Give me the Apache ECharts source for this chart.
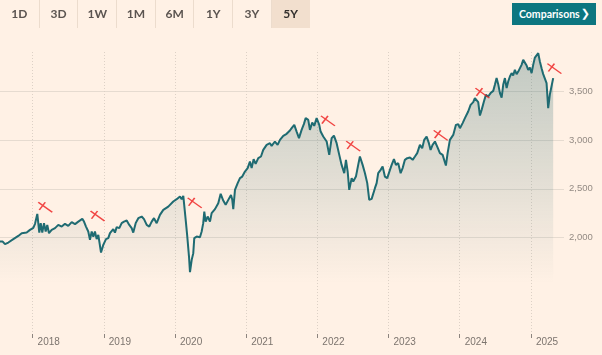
<!DOCTYPE html>
<html>
<head>
<meta charset="utf-8">
<script src="https://cdn.jsdelivr.net/npm/echarts@6/dist/echarts.min.js"></script>
<style>
  html, body { margin: 0; padding: 0; background: #fff1e5; }
  #wrap { position: relative; width: 602px; height: 355px; overflow: hidden; background: #fff1e5; }
  #chart { position: absolute; left: 0; top: 0; width: 602px; height: 355px; }
  .tabs { position: absolute; left: 0; top: 0; height: 28px; display: flex; z-index: 2; }
  .tab { width: 38.7px; height: 28px; line-height: 28px; text-align: center; font-family: Lato, "Open Sans", sans-serif; font-weight: 700; font-size: 12px; color: #5b5450; border-left: 1px solid #ecdccd; box-sizing: border-box; }
  .tab:first-child { border-left: none; }
  .tab.active { background: #f2dfce; color: #33302e; }
  .btn { position: absolute; left: 512px; top: 3px; width: 84px; height: 22px; background: #0d7680; color: #fff; font-family: Lato, "Open Sans", sans-serif; font-weight: 700; font-size: 10.5px; line-height: 22px; box-sizing: border-box; padding-left: 7px; z-index: 2; }
  .btn .chev { position: absolute; right: 6px; top: 0; font-size: 11px; font-family: "DejaVu Sans", sans-serif; font-weight: 700; }
</style>
</head>
<body>
<div id="wrap">
  <div id="chart"></div>
  <div class="tabs" id="tabs"></div>
  <div class="btn">Comparisons<span class="chev">&#10095;</span></div>
</div>
<script>
// ---- data ----
const rangeTabs = ['1D', '3D', '1W', '1M', '6M', '1Y', '3Y', '5Y'];
const activeTab = '5Y';
const yearTicks = [2018, 2019, 2020, 2021, 2022, 2023, 2024, 2025];
const valueTicks = [2000, 2500, 3000, 3500];

// time as decimal year
const dates = [
  2017.542, 2017.580, 2017.612, 2017.659, 2017.729, 2017.799, 2017.847, 2017.917, 2017.963, 2018.010,
  2018.034, 2018.066, 2018.094, 2018.114, 2018.136, 2018.160, 2018.184, 2018.206, 2018.230, 2018.268,
  2018.315, 2018.361, 2018.409, 2018.455, 2018.501, 2018.549, 2018.596, 2018.642, 2018.666, 2018.698,
  2018.722, 2018.750, 2018.782, 2018.806, 2018.830, 2018.853, 2018.876, 2018.900, 2018.923, 2018.961,
  2018.993, 2019.031, 2019.063, 2019.087, 2019.111, 2019.133, 2019.157, 2019.181, 2019.218, 2019.251,
  2019.284, 2019.322, 2019.358, 2019.392, 2019.414, 2019.448, 2019.485, 2019.532, 2019.565, 2019.603,
  2019.639, 2019.673, 2019.705, 2019.743, 2019.789, 2019.836, 2019.906, 2019.976, 2020.024, 2020.046,
  2020.070, 2020.094, 2020.117, 2020.136, 2020.155, 2020.173, 2020.197, 2020.211, 2020.235, 2020.257,
  2020.271, 2020.305, 2020.327, 2020.351, 2020.375, 2020.397, 2020.412, 2020.431, 2020.459, 2020.492,
  2020.515, 2020.562, 2020.608, 2020.642, 2020.678, 2020.712, 2020.749, 2020.787, 2020.805, 2020.819,
  2020.843, 2020.881, 2020.913, 2020.945, 2020.983, 2021.021, 2021.053, 2021.077, 2021.105, 2021.133,
  2021.170, 2021.208, 2021.240, 2021.288, 2021.334, 2021.358, 2021.404, 2021.442, 2021.475, 2021.521,
  2021.569, 2021.615, 2021.639, 2021.676, 2021.709, 2021.742, 2021.779, 2021.812, 2021.836, 2021.872,
  2021.896, 2021.928, 2021.956, 2021.990, 2022.027, 2022.046, 2022.083, 2022.107, 2022.131, 2022.167,
  2022.201, 2022.233, 2022.271, 2022.308, 2022.341, 2022.378, 2022.402, 2022.426, 2022.448, 2022.482,
  2022.504, 2022.542, 2022.574, 2022.598, 2022.636, 2022.669, 2022.701, 2022.729, 2022.763, 2022.785,
  2022.809, 2022.833, 2022.855, 2022.889, 2022.917, 2022.949, 2022.982, 2023.020, 2023.044, 2023.076,
  2023.104, 2023.136, 2023.170, 2023.198, 2023.230, 2023.263, 2023.301, 2023.339, 2023.371, 2023.403,
  2023.441, 2023.473, 2023.501, 2023.535, 2023.567, 2023.591, 2023.619, 2023.652, 2023.684, 2023.722,
  2023.760, 2023.778, 2023.806, 2023.830, 2023.862, 2023.909, 2023.947, 2023.979, 2024.003, 2024.041,
  2024.073, 2024.119, 2024.153, 2024.190, 2024.213, 2024.237, 2024.260, 2024.284, 2024.308, 2024.340,
  2024.368, 2024.400, 2024.434, 2024.471, 2024.494, 2024.518, 2024.541, 2024.565, 2024.589, 2024.611,
  2024.635, 2024.659, 2024.681, 2024.705, 2024.729, 2024.751, 2024.775, 2024.799, 2024.822, 2024.846,
  2024.869, 2024.892, 2024.916, 2024.940, 2024.962, 2024.986, 2025.010, 2025.032, 2025.056, 2025.080,
  2025.103, 2025.126, 2025.150, 2025.173, 2025.197, 2025.220, 2025.243, 2025.267, 2025.291, 2025.313
];
const values = [
  1959, 1959, 1932, 1949, 1984, 2017, 2045, 2051, 2079, 2100,
  2141, 2243, 2051, 2148, 2051, 2148, 2062, 2130, 2045, 2079,
  2097, 2130, 2113, 2141, 2120, 2158, 2138, 2164, 2148, 2192,
  2164, 2113, 2062, 1976, 2062, 2010, 2062, 1984, 2028, 1846,
  1925, 1984, 1994, 2045, 2062, 2086, 2051, 2107, 2097, 2148,
  2164, 2175, 2130, 2097, 2051, 2148, 2199, 2216, 2189, 2130,
  2113, 2164, 2199, 2148, 2233, 2284, 2318, 2370, 2394, 2387,
  2421, 2394, 2428, 2415, 2148, 2010, 1805, 1645, 1771, 1840,
  1994, 2010, 2028, 2004, 2062, 2148, 2267, 2164, 2216, 2164,
  2251, 2292, 2353, 2449, 2380, 2336, 2387, 2438, 2387, 2292,
  2490, 2559, 2610, 2626, 2678, 2713, 2780, 2713, 2805, 2757,
  2815, 2832, 2900, 2952, 2969, 2941, 2986, 2952, 3003, 3044,
  3065, 3099, 3123, 3157, 3088, 3021, 3106, 3167, 3226, 3208,
  3106, 3181, 3147, 3226, 3157, 3088, 3037, 3037, 2986, 2849,
  3021, 3047, 2969, 2849, 2746, 2661, 2798, 2678, 2490, 2610,
  2575, 2626, 2746, 2832, 2746, 2661, 2559, 2387, 2397, 2377,
  2507, 2559, 2661, 2695, 2729, 2626, 2610, 2695, 2746, 2805,
  2746, 2764, 2661, 2713, 2798, 2815, 2821, 2798, 2832, 2867,
  2952, 2918, 3003, 3037, 2969, 2900, 2952, 2986, 2934, 2867,
  2849, 2867, 2739, 2867, 3003, 3054, 3157, 3164, 3123, 3175,
  3226, 3294, 3362, 3390, 3431, 3434, 3390, 3253, 3311, 3396,
  3465, 3448, 3483, 3506, 3568, 3637, 3575, 3483, 3437, 3568,
  3637, 3534, 3602, 3653, 3688, 3663, 3722, 3678, 3704, 3704,
  3773, 3824, 3842, 3766, 3722, 3745, 3688, 3773, 3848, 3835,
  3893, 3807, 3739, 3678, 3670, 3585, 3329, 3472, 3483, 3637
];

// red hand-drawn cross annotations
const markerDates = [2018.178, 2018.912, 2020.277, 2022.149, 2022.504, 2023.733, 2024.319, 2025.330];
const markerValues = [2311, 2221, 2356, 3198, 2938, 3049, 3483, 3734];

// ---- UI tabs ----
const tabsEl = document.getElementById('tabs');
rangeTabs.forEach(t => {
  const d = document.createElement('div');
  d.className = 'tab' + (t === activeTab ? ' active' : '');
  d.textContent = t;
  tabsEl.appendChild(d);
});

// ---- chart ----
const chart = echarts.init(document.getElementById('chart'), null, { renderer: 'canvas' });
const lineData = dates.map((d, i) => [d, values[i]]);
const markerData = markerDates.map((d, i) => [d, markerValues[i]]);

chart.setOption({
  backgroundColor: 'transparent',
  animation: false,
  grid: { left: 0, right: 38, top: 52, bottom: 21, containLabel: false },
  xAxis: {
    type: 'value',
    min: 2017.542,
    max: 2025.465,
    axisLine: { show: false },
    axisTick: { show: true, customValues: yearTicks, length: 4, lineStyle: { color: '#8c847e', width: 1 } },
    axisLabel: {
      customValues: yearTicks,
      formatter: v => String(Math.round(v)),
      align: 'left',
      padding: [0, 0, 0, 5],
      margin: 3,
      color: '#7c746e',
      fontFamily: 'Liberation Sans, Arial, sans-serif',
      fontSize: 10
    },
    splitLine: { show: true, lineStyle: { type: [1, 2], color: '#ddd1c6', width: 1 } }
  },
  yAxis: {
    type: 'value',
    position: 'right',
    min: 1010,
    max: 3905,
    axisLine: { show: false },
    axisTick: { show: false, customValues: valueTicks },
    axisLabel: {
      customValues: valueTicks,
      formatter: v => Math.round(v).toLocaleString('en-US'),
      margin: 5,
      color: '#948b84',
      fontFamily: 'Liberation Sans, Arial, sans-serif',
      fontSize: 9.5
    },
    splitLine: { show: true, lineStyle: { color: '#e6dbd0', width: 1 } }
  },
  series: [
    {
      type: 'line',
      data: lineData,
      showSymbol: false,
      symbol: 'none',
      lineStyle: { color: '#1f6b72', width: 2 },
      areaStyle: {
        origin: 'start',
        color: {
          type: 'linear', x: 0, y: 0, x2: 0, y2: 1,
          colorStops: [
            { offset: 0, color: 'rgba(22,92,98,0.38)' },
            { offset: 0.4, color: 'rgba(22,92,98,0.20)' },
            { offset: 0.65, color: 'rgba(22,92,98,0.08)' },
            { offset: 0.82, color: 'rgba(22,92,98,0.0)' },
            { offset: 1, color: 'rgba(22,92,98,0.0)' }
          ]
        }
      },
      z: 2
    },
    {
      type: 'scatter',
      data: markerData,
      symbol: 'path://M0 0L14 9M1 7L7 0',
      symbolSize: [14, 10],
      itemStyle: { color: 'rgba(0,0,0,0)', borderColor: '#ee1c1c', borderWidth: 1.4 },
      z: 3
    }
  ]
});
</script>
</body>
</html>
